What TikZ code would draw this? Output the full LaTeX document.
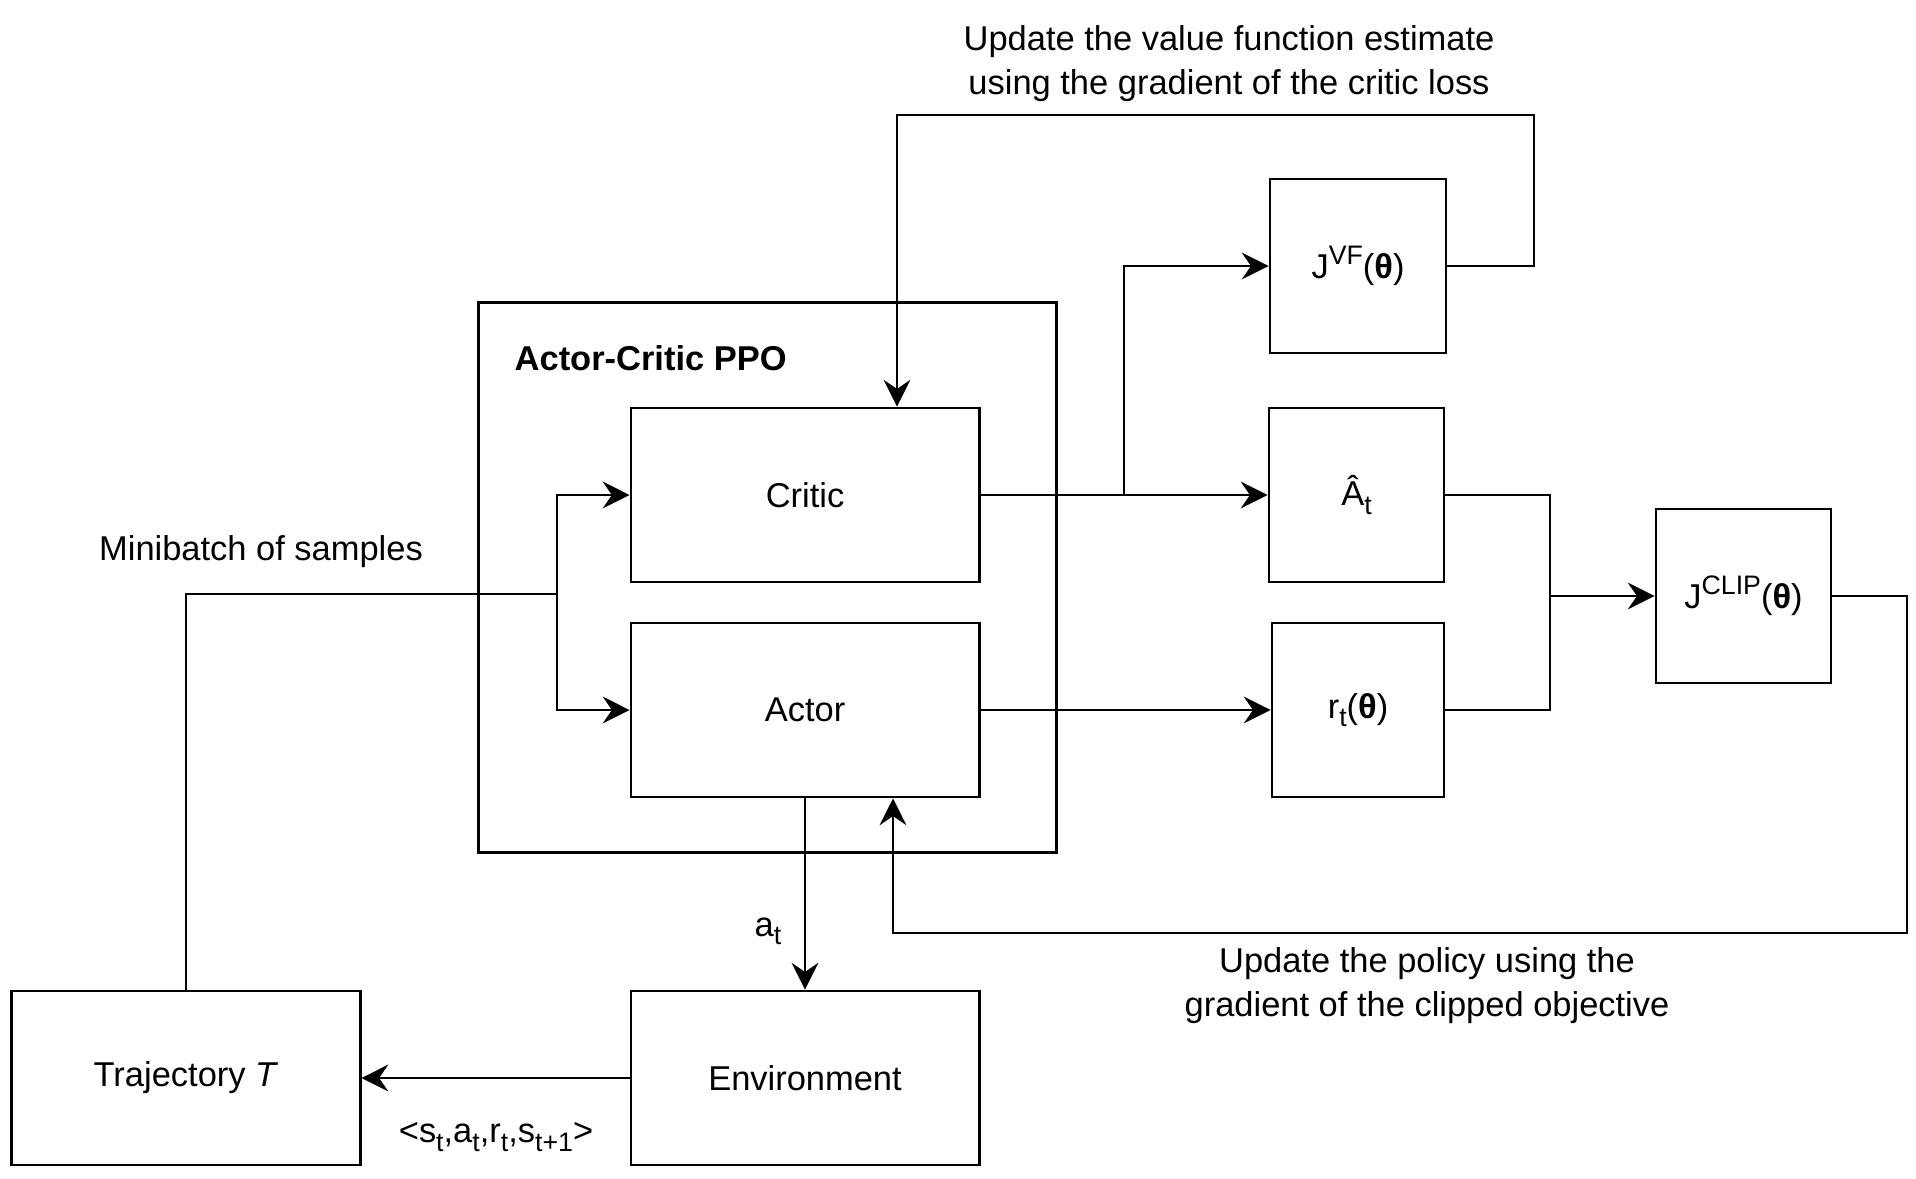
\documentclass[tikz,border=0pt]{standalone}
\usepackage{fontspec}
\setmainfont{Liberation Sans}
\usetikzlibrary{arrows.meta}
\newcommand{\mysub}[1]{\raisebox{-0.45ex}{\fontsize{7.6}{8}\selectfont #1}}
\newcommand{\mysup}[1]{\raisebox{0.75ex}{\fontsize{7.6}{8}\selectfont #1}}
\begin{document}
\begin{tikzpicture}[x=0.01cm,y=-0.01cm,
  every node/.style={font=\fontsize{9.8}{12.5}\selectfont, text=black},
  box/.style={draw, line width=0.8pt, minimum height=1.74cm, inner sep=0pt},
  conn/.style={draw, line width=0.8pt},
  arr/.style={conn, -{Stealth[length=7.6pt,width=7.6pt,inset=2.6pt]}},
  lbl/.style={align=center, inner sep=0pt}]
\useasboundingbox (0,0) rectangle (1916,1178);

% container
\node[box, minimum width=5.77cm, minimum height=5.49cm] (ppo) at (767.5,577.5) {};
\node[lbl, anchor=west] (tPPO) at (514,358) {\textbf{Actor-Critic PPO}};

% boxes
\node[box, minimum width=3.48cm] (critic) at (805,495) {Critic};
\node[box, minimum width=3.48cm] (actor) at (805,710) {Actor};
\node[box, minimum width=3.48cm] (env) at (805,1078) {Environment};
\node[box, minimum width=3.48cm] (traj) at (186,1078) {Trajectory \textit{T}};
\node[box, minimum width=1.76cm] (jvf) at (1358,266) {J\mysup{VF}(\textbf{θ})};
\node[box, minimum width=1.75cm] (ahat) at (1356.5,495) {Â\mysub{t}};
\node[box, minimum width=1.72cm] (rt) at (1358,710) {r\mysub{t}(\textbf{θ})};
\node[box, minimum width=1.75cm] (clip) at (1743.5,596) {J\mysup{CLIP}(\textbf{θ})};

% coordinates
\coordinate (fork) at (557,594);
\coordinate (br) at (1124,495);
\coordinate (vfR) at (1534,115);
\coordinate (vfx) at (897,115);
\coordinate (mrg) at (1550,596);
\coordinate (polR) at (1907,933);
\coordinate (polx) at (893,933);

% connectors
\draw[conn] (traj.north) |- (fork);
\draw[arr] (fork) |- (critic.west);
\draw[arr] (fork) |- (actor.west);
\draw[arr] (critic.east) -- (ahat.west);
\draw[arr] (br) |- (jvf.west);
\draw[arr] (actor.east) -- (rt.west);
\draw[arr] (jvf.east) -| (vfR) -- (vfx) -- (vfx |- critic.north);
\draw[conn] (ahat.east) -| (mrg);
\draw[conn] (rt.east) -| (mrg);
\draw[arr] (mrg) -- (clip.west);
\draw[arr] (clip.east) -| (polR) -- (polx) -- (polx |- actor.south);
\draw[arr] (actor.south) -- (env.north);
\draw[arr] (env.west) -- (traj.east);

% labels
\node[lbl] (tVF) at (1229,64) {Update the value function estimate\\using the gradient of the critic loss};
\node[lbl] (tPol) at (1427,986) {Update the policy using the\\gradient of the clipped objective};
\node[lbl] (tMB) at (261,552) {Minibatch of samples};
\node[lbl] (tat) at (768,931) {a\mysub{t}};
\node[lbl] (ttuple) at (496,1137) {<s\mysub{t},a\mysub{t},r\mysub{t},s\mysub{t+1}>};
\end{tikzpicture}
\end{document}
